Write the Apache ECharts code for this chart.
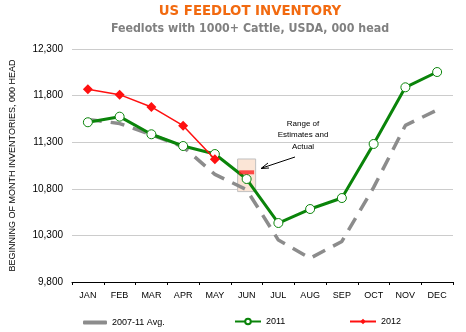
<!DOCTYPE html>
<html><head><meta charset="utf-8">
<script src="https://cdn.jsdelivr.net/npm/echarts@6/dist/echarts.min.js"></script>
<style>html,body{margin:0;padding:0;background:#fff}#c{width:466px;height:332px}</style>
</head><body><div id="c"></div>
<script>
const months = ['JAN','FEB','MAR','APR','MAY','JUN','JUL','AUG','SEP','OCT','NOV','DEC'];
const avg0711 = [11545, 11500, 11380, 11250, 10955, 10790, 10250, 10055, 10235, 10815, 11480, 11645];
const y2011 = [11514, 11574, 11385, 11259, 11173, 10905, 10433, 10583, 10701, 11281, 11889, 12053];
const y2012 = [11867, 11810, 11678, 11477, 11116, null, null, null, null, null, null, null];
const junActual = [['JUN', 10977]];
const junRange = [['JUN', 10770, 11120]];

const chart = echarts.init(document.getElementById('c'));
const F = 'Liberation Sans';
const legText = {fontSize: 9, fontFamily: F, color: '#000'};
chart.setOption({
  animation: false,
  grid: {left: 70, right: 13, top: 49, bottom: 50},
  legend: [
    {data: [{name: '2007-11 Avg.', icon: 'roundRect'}], left: 78, top: 313, itemWidth: 24, itemHeight: 4, textStyle: legText},
    {data: ['2011'], left: 229, top: 312, itemWidth: 26, itemHeight: 7, textStyle: legText},
    {data: ['2012'], left: 344, top: 312, itemWidth: 26, itemHeight: 7, textStyle: legText}
  ],
  xAxis: {
    type: 'category', data: months, boundaryGap: true,
    axisLine: {lineStyle: {color: '#000', width: 1}},
    axisTick: {show: true, inside: false, length: 3, lineStyle: {color: '#000'}},
    axisLabel: {color: '#000', fontSize: 9, fontFamily: F, margin: 9}
  },
  yAxis: {
    type: 'value', min: 9800, max: 12300, interval: 500,
    name: 'BEGINNING OF MONTH INVENTORIES, 000 HEAD', nameLocation: 'middle', nameGap: 55,
    nameTextStyle: {fontSize: 9, fontFamily: F, color: '#000'},
    axisLine: {show: false}, axisTick: {show: false},
    axisLabel: {color: '#000', fontSize: 10, fontFamily: F, margin: 9,
      formatter: v => v.toLocaleString('en-US')},
    splitLine: {lineStyle: {color: '#cccccc', width: 1}}
  },
  series: [
    {name: 'JUN range', type: 'custom', z: 1, silent: true,
     data: junRange,
     renderItem: (params, api) => {
       const top = api.coord([api.value(0), api.value(2)]);
       const bot = api.coord([api.value(0), api.value(1)]);
       return {type: 'rect', shape: {x: top[0] - 9, y: top[1], width: 18, height: bot[1] - top[1]},
         style: {fill: '#fbe5d6', stroke: '#c0c0c0', lineWidth: 1}};
     }},
    {name: '2007-11 Avg.', type: 'line', data: avg0711, symbol: 'none', z: 2,
     lineStyle: {color: '#8c8c8c', width: 3.5, type: [14, 9]}, itemStyle: {color: '#8c8c8c'}},
    {name: '2011', type: 'line', data: y2011, z: 3, symbol: 'circle', symbolSize: 9,
     lineStyle: {color: '#0a840a', width: 3},
     itemStyle: {color: '#ffffff', borderColor: '#0a840a', borderWidth: 1}},
    {name: '2012', type: 'line', data: y2012, z: 4, symbol: 'diamond', symbolSize: 10,
     lineStyle: {color: '#ff1010', width: 1.5}, itemStyle: {color: '#ff1010'}},
    {name: 'JUN actual', type: 'scatter', data: junActual, z: 3, symbol: 'rect', symbolSize: [15, 4],
     itemStyle: {color: '#ff2020'}}
  ],
  graphic: [
    {type: 'text', x: 250, y: 4, style: {text: 'US FEEDLOT INVENTORY', align: 'center',
      fontSize: 14.8, fontWeight: 'bold', fontFamily: 'DejaVu Sans Condensed', fill: '#f26a10'}},
    {type: 'text', x: 250, y: 23, style: {text: 'Feedlots with 1000+ Cattle, USDA, 000 head', align: 'center',
      fontSize: 12.3, fontWeight: 'bold', fontFamily: 'DejaVu Sans Condensed', fill: '#808080'}},
    {type: 'text', x: 303, y: 118, style: {text: 'Range of\nEstimates and\nActual',
      align: 'center', fontSize: 8, fontFamily: F, lineHeight: 11.5, fill: '#000'}},
    {type: 'line', shape: {x1: 295, y1: 157, x2: 262, y2: 168}, style: {stroke: '#000', lineWidth: 1}},
    {type: 'polyline', shape: {points: [[268, 163], [261, 168.5], [269, 168]]}, style: {stroke: '#000', lineWidth: 1, fill: null}}
  ]
});
</script></body></html>
